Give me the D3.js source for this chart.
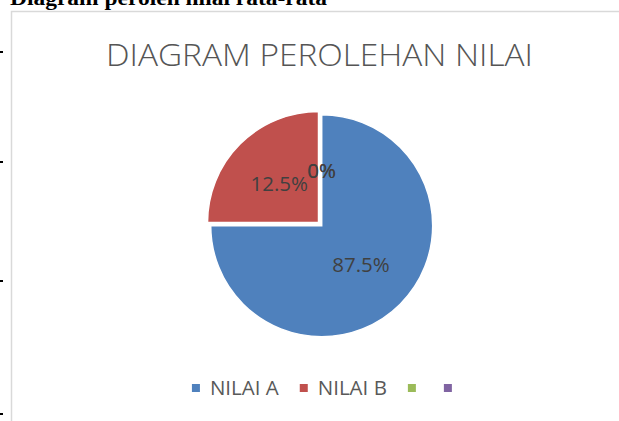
<!DOCTYPE html>
<html><head><meta charset="utf-8">
<script src="https://cdn.jsdelivr.net/npm/d3@7"></script>
<style>html,body{margin:0;padding:0;background:#fff;overflow:hidden}svg{display:block}</style>
</head><body>
<svg id="c" width="619" height="421"></svg>
<script>
// ---- data ----
const categories = ["NILAI A", "NILAI B", "", ""];
const shares = [75, 25, 0, 0];               // drawn slice sizes as seen in the picture
const labels = ["87.5%", "12.5%", "0%", "0%"]; // data labels as printed
const colors = ["#4F81BD", "#C0504D", "#9BBB59", "#8064A2"];
const exploded = [false, true, false, false];
const pageHeading = "Diagram peroleh nilai rata-rata";
const chartTitle = "DIAGRAM PEROLEHAN NILAI";
const marginTicks = [52, 162, 281, 414];

const W = 619, H = 421;
const svg = d3.select("#c");

// page heading (cut off at top, as in the reference)
svg.append("text").attr("x", 10).attr("y", 5)
  .attr("font-family", "'Liberation Serif', serif").attr("font-weight", "bold")
  .attr("font-size", 21).attr("fill", "#000")
  .attr("textLength", 317).attr("lengthAdjust", "spacingAndGlyphs")
  .text(pageHeading);

// margin marks
const tickScale = d3.scaleIdentity();
svg.selectAll("rect.mt").data(marginTicks).join("rect").attr("class", "mt")
  .attr("x", 0).attr("y", d => tickScale(d) - 1).attr("width", 3).attr("height", 2).attr("fill", "#000");

// chart area border
svg.append("rect").attr("x", 11.5).attr("y", 11.5).attr("width", 700).attr("height", 500)
  .attr("fill", "#fff").attr("stroke", "#d9d9d9").attr("stroke-width", 1.5);

// title
svg.append("text").attr("x", 319.5).attr("y", 66).attr("text-anchor", "middle")
  .attr("font-family", "'Open Sans', sans-serif").attr("font-weight", 300)
  .attr("font-size", 31).attr("fill", "#555555")
  .attr("textLength", 427).attr("lengthAdjust", "spacingAndGlyphs")
  .text(chartTitle);

// pie
const cx = 321.7, cy = 225.7, R = 111, explode = 4.5;
const pie = d3.pie().sort(null).value(d => d.v);
const data = categories.map((c, i) => ({c, v: shares[i], label: labels[i], color: colors[i], ex: exploded[i]}));
const arcs = pie(data);
const arc = d3.arc().innerRadius(0).outerRadius(R);

const g = svg.append("g").attr("transform", `translate(${cx},${cy})`);
const off = a => {
  if (!a.data.ex) return [0, 0];
  const m = (a.startAngle + a.endAngle) / 2;
  return [Math.sin(m) * explode, -Math.cos(m) * explode];
};
g.selectAll("path").data(arcs.filter(a => a.data.v > 0)).join("path")
  .attr("d", arc)
  .attr("transform", a => `translate(${off(a)})`)
  .attr("fill", a => a.data.color)
  .attr("stroke", "#fff").attr("stroke-width", 1.5).attr("stroke-linejoin", "miter");

g.selectAll("text.lbl").data(arcs).join("text").attr("class", "lbl")
  .attr("transform", a => { const c = arc.centroid(a), o = off(a); return `translate(${c[0] + o[0]},${c[1] + o[1]})`; })
  .attr("text-anchor", "middle").attr("dy", "0.36em")
  .attr("font-family", "'Open Sans', sans-serif").attr("font-size", 20.5).attr("fill", "#404040")
  .text(a => a.data.label);

// legend
const leg = svg.append("g");
const fs = 20.5;
const ctx = document.createElement("canvas").getContext("2d"); ctx.font = `${fs}px 'Open Sans', sans-serif`;
let x = 0; const items = [];
data.forEach(d => {
  const tw = d.c ? ctx.measureText(d.c).width : 0;
  items.push({d, x});
  x += d.c ? 18 + tw + 21 : 36;
});
const totalW = items[items.length - 1].x + 8;
const lx0 = 321.9 - totalW / 2, ly = 388;
const lg = leg.selectAll("g").data(items).join("g").attr("transform", it => `translate(${lx0 + it.x},${ly})`);
lg.append("rect").attr("x", 0).attr("y", -4).attr("width", 8).attr("height", 8).attr("fill", it => it.d.color);
lg.append("text").attr("x", 18).attr("y", 7)
  .attr("font-family", "'Open Sans', sans-serif").attr("font-size", fs).attr("fill", "#595959")
  .text(it => it.d.c);
</script>
</body></html>
